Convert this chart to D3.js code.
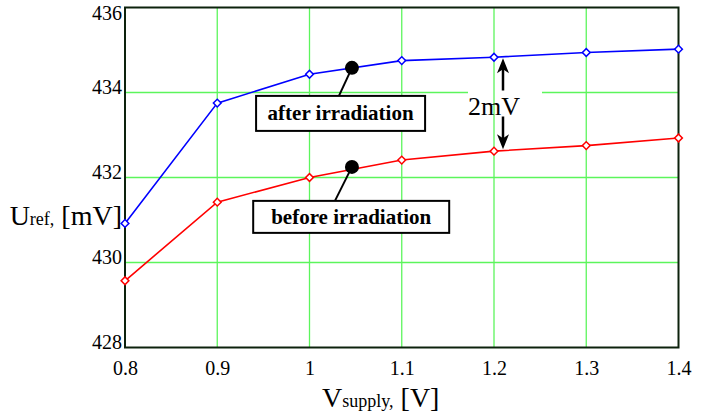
<!DOCTYPE html>
<html>
<head>
<meta charset="utf-8">
<script src="https://cdn.jsdelivr.net/npm/d3@7"></script>
<style>
  body { margin: 0; background: #fff; }
  text { font-family: "Liberation Serif", "Times New Roman", serif; fill: #000; }
</style>
</head>
<body>
<div id="chart"></div>
<script>
// supply voltage, V
var vSupply = [0.8, 0.9, 1.0, 1.1, 1.2, 1.3, 1.4];
// reference voltage, mV
var afterIrr = [430.92, 433.75, 434.43, 434.75, 434.83, 434.94, 435.02];
var beforeIrr = [429.57, 431.42, 432.0, 432.41, 432.62, 432.75, 432.93];

var xTicks = [0.8, 0.9, 1, 1.1, 1.2, 1.3, 1.4];
var yTicks = [428, 430, 432, 434, 436];
var yGrid = [430, 432, 434];

var svgWidth = 717;
var svgHeight = 417;

var margin = {
    top: 7.5,
    bottom: 69.5,
    right: 38.5,
    left: 125
};

var width = svgWidth - margin.left - margin.right;
var height = svgHeight - margin.top - margin.bottom;

var svg = d3.select('#chart')
    .append('svg')
    .attr('width', svgWidth)
    .attr('height', svgHeight);

var chartGroup = svg.append('g')
    .attr('transform', `translate(${margin.left}, ${margin.top})`);

var xScale = d3.scaleLinear()
    .domain([0.8, 1.4])
    .range([0, width]);
var yScale = d3.scaleLinear()
    .domain([428, 436])
    .range([height, 0]);

var gridColor = '#5cf55c';

// horizontal grid
chartGroup.selectAll('line.hgrid')
    .data(yGrid)
    .enter()
    .append('line')
    .attr('class', 'hgrid')
    .attr('x1', 0)
    .attr('x2', width)
    .attr('y1', d => yScale(d))
    .attr('y2', d => yScale(d))
    .attr('stroke', gridColor)
    .attr('stroke-width', 1.6);

// white patch behind the "2mV" label
chartGroup.append('rect')
    .attr('x', xScale(1.2) - 26)
    .attr('y', yScale(434) - 5)
    .attr('width', 74)
    .attr('height', 10)
    .attr('fill', '#fff');

// vertical grid
chartGroup.selectAll('line.vgrid')
    .data(xTicks.slice(1, -1))
    .enter()
    .append('line')
    .attr('class', 'vgrid')
    .attr('x1', d => xScale(d))
    .attr('x2', d => xScale(d))
    .attr('y1', 0)
    .attr('y2', height)
    .attr('stroke', gridColor)
    .attr('stroke-width', 1.3);

// frame
chartGroup.append('rect')
    .attr('x', 0)
    .attr('y', 0)
    .attr('width', width)
    .attr('height', height)
    .attr('fill', 'none')
    .attr('stroke', '#0d220d')
    .attr('stroke-width', 2);

// tick labels
var xAxis = d3.axisBottom(xScale)
    .tickValues(xTicks)
    .tickFormat(d => String(d))
    .tickSize(0)
    .tickPadding(0);
var xAxisG = chartGroup.append('g')
    .attr('transform', `translate(0,${height})`)
    .call(xAxis);
xAxisG.select('.domain').remove();
xAxisG.selectAll('text')
    .attr('font-size', 20)
    .attr('font-family', '"Liberation Serif", serif')
    .attr('fill', '#000')
    .attr('dy', null)
    .attr('y', 27);

chartGroup.selectAll('text.ytick')
    .data(yTicks)
    .enter()
    .append('text')
    .attr('class', 'ytick')
    .attr('x', -3)
    .attr('y', d => Math.max(yScale(d) + 1, 12))
    .attr('text-anchor', 'end')
    .attr('font-size', 20)
    .text(d => d);

// series
var series = [
    {name: 'after', values: afterIrr, color: '#0000ff'},
    {name: 'before', values: beforeIrr, color: '#ff0000'}
];

var line = d3.line()
    .x((d, i) => xScale(vSupply[i]))
    .y(d => yScale(d));

var diamond = d3.symbol().type(d3.symbolSquare).size(30);

series.forEach(s => {
    chartGroup.append('path')
        .datum(s.values)
        .attr('d', line)
        .attr('fill', 'none')
        .attr('stroke', s.color)
        .attr('stroke-width', 1.6);

    chartGroup.selectAll('path.mk-' + s.name)
        .data(s.values)
        .enter()
        .append('path')
        .attr('class', 'mk-' + s.name)
        .attr('d', diamond)
        .attr('transform', (d, i) => `translate(${xScale(vSupply[i])},${yScale(d)}) rotate(45)`)
        .attr('fill', '#fff')
        .attr('stroke', s.color)
        .attr('stroke-width', 1.5);
});

// callout labels
var callouts = [
    {text: 'after irradiation', x: 1.046, y: 434.58, boxX: 1.0337, boxTop: 433.92, boxW: 169, boxH: 35, tipDx: -13},
    {text: 'before irradiation', x: 1.046, y: 432.25, boxX: 1.0452, boxTop: 431.45, boxW: 196, boxH: 32, tipDx: -17}
];

callouts.forEach(c => {
    var cx = xScale(c.x), cy = yScale(c.y);
    var bx = xScale(c.boxX), by = yScale(c.boxTop);
    chartGroup.append('line')
        .attr('x1', cx)
        .attr('y1', cy)
        .attr('x2', cx + c.tipDx)
        .attr('y2', by)
        .attr('stroke', '#000')
        .attr('stroke-width', 2);
    chartGroup.append('circle')
        .attr('cx', cx)
        .attr('cy', cy)
        .attr('r', 7)
        .attr('fill', '#000');
    chartGroup.append('rect')
        .attr('x', bx - c.boxW / 2)
        .attr('y', by)
        .attr('width', c.boxW)
        .attr('height', c.boxH)
        .attr('fill', '#fff')
        .attr('stroke', '#000')
        .attr('stroke-width', 2);
    chartGroup.append('text')
        .attr('x', bx)
        .attr('y', by + c.boxH / 2 + 7)
        .attr('text-anchor', 'middle')
        .attr('font-size', 21)
        .attr('font-weight', 'bold')
        .text(c.text);
});

// 2mV difference marker
var ax = xScale(1.2) + 9;
chartGroup.append('text')
    .attr('x', xScale(1.2))
    .attr('y', yScale(434) + 22)
    .attr('text-anchor', 'middle')
    .attr('font-size', 26)
    .text('2mV');

function arrow(x, yFrom, yTo) {
    var dir = yTo < yFrom ? 1 : -1;
    chartGroup.append('line')
        .attr('x1', x)
        .attr('y1', yFrom)
        .attr('x2', x)
        .attr('y2', yTo + dir * 8)
        .attr('stroke', '#000')
        .attr('stroke-width', 2.5);
    chartGroup.append('path')
        .attr('d', `M${x},${yTo} L${x - 6},${yTo + dir * 15} L${x},${yTo + dir * 11} L${x + 6},${yTo + dir * 15} Z`)
        .attr('fill', '#000');
}
arrow(ax, yScale(434) - 2, yScale(afterIrr[4]) + 1);
arrow(ax, yScale(434) + 24, yScale(beforeIrr[4]) - 2);

// axis titles
var xTitle = svg.append('text')
    .attr('x', 322)
    .attr('y', 407)
    .attr('font-size', 28);
xTitle.append('tspan').text('V');
xTitle.append('tspan').attr('font-size', 18).text('supply,');
xTitle.append('tspan').text(' [V]');

var yTitle = svg.append('text')
    .attr('x', 122)
    .attr('y', 225)
    .attr('text-anchor', 'end')
    .attr('font-size', 28);
yTitle.append('tspan').text('U');
yTitle.append('tspan').attr('font-size', 18).text('ref,');
yTitle.append('tspan').text(' [mV]');
</script>
</body>
</html>
